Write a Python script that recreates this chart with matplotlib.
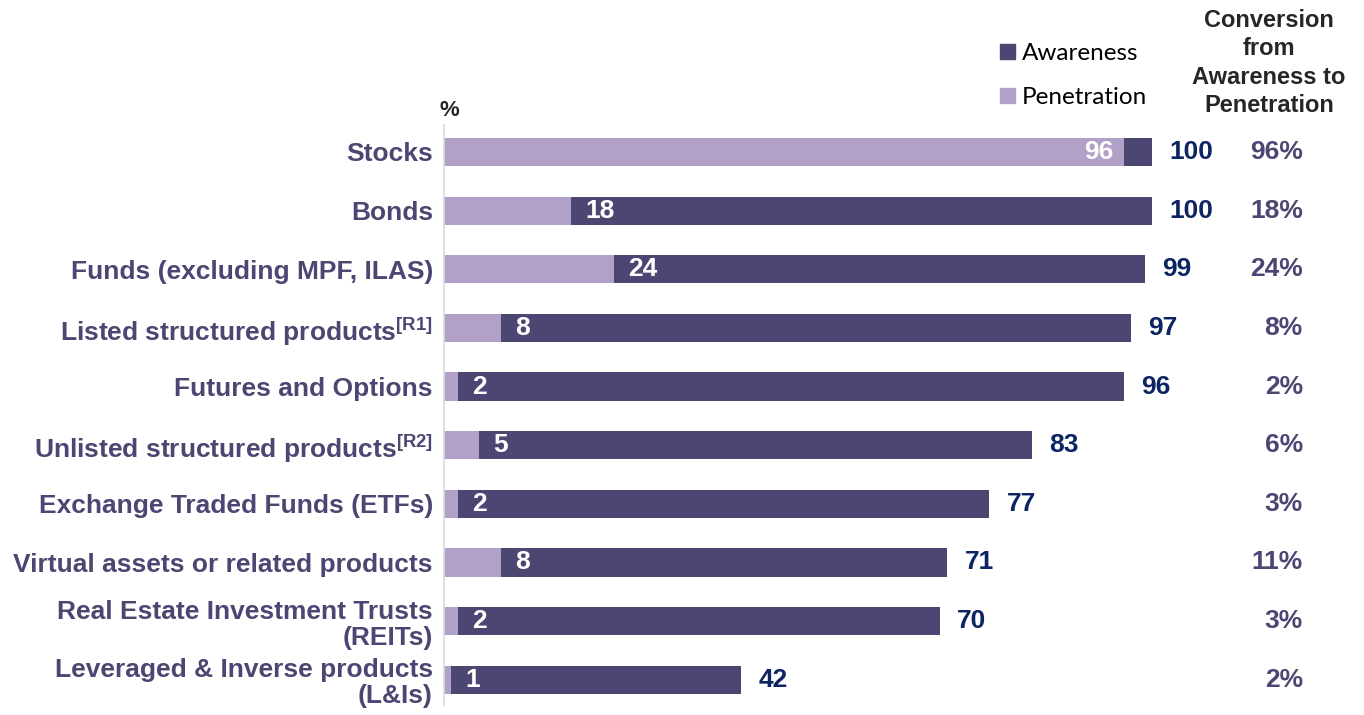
import numpy as np
import matplotlib
matplotlib.use("Agg")
import matplotlib.pyplot as plt
from matplotlib.patches import Patch

plt.rcParams['font.family'] = ['Liberation Sans', 'DejaVu Sans']
plt.rcParams['mathtext.fontset'] = 'custom'
plt.rcParams['mathtext.rm'] = 'Liberation Sans:bold'
plt.rcParams['mathtext.bf'] = 'Liberation Sans:bold'

categories = [
    "Stocks",
    "Bonds",
    "Funds (excluding MPF, ILAS)",
    r"Listed structured products$^{\mathbf{[R1]}}$",
    "Futures and Options",
    r"Unlisted structured products$^{\mathbf{[R2]}}$",
    "Exchange Traded Funds (ETFs)",
    "Virtual assets or related products",
    "Real Estate Investment Trusts\n(REITs)",
    "Leveraged & Inverse products\n(L&Is)",
]
awareness = [100, 100, 99, 97, 96, 83, 77, 71, 70, 42]
penetration = [96, 18, 24, 8, 2, 5, 2, 8, 2, 1]
conversion = ["96%", "18%", "24%", "8%", "2%", "6%", "3%", "11%", "3%", "2%"]

c_aw = '#4B4672'
c_pen = '#B1A0C7'
c_val = '#0D2462'
c_lab = '#4B4672'
fs = 19

fig = plt.figure(figsize=(13.64, 7.15), dpi=100)
ax = fig.add_axes([444 / 1364, 10 / 715, 920 / 1364, 580 / 715])

y = np.arange(len(categories))
ax.barh(y, awareness, height=0.48, color=c_aw, label='Awareness')
ax.barh(y, penetration, height=0.48, color=c_pen, label='Penetration')

ax.set_xlim(0, 920 / 7.08)
ax.set_ylim(9.43, -0.46)

for i in range(len(categories)):
    p = penetration[i]
    if p > 50:
        ax.text(p - 1.5, i, str(p), ha='right', va='center', color='white',
                fontsize=fs, fontweight='bold')
    else:
        ax.text(p + 2.0, i, str(p), ha='left', va='center', color='white',
                fontsize=fs, fontweight='bold')
    ax.text(awareness[i] + 2.5, i, str(awareness[i]), ha='left', va='center',
            color=c_val, fontsize=fs, fontweight='bold')
    ax.text(121.3, i, conversion[i], ha='right', va='center', color=c_lab,
            fontsize=fs, fontweight='bold')

ax.set_yticks(y)
ax.set_yticklabels(categories, fontsize=fs, fontweight='bold', color=c_lab,
                   ha='right', linespacing=1.1)
ax.tick_params(axis='y', length=0, pad=8)
ax.set_xticks([])
for s in ['top', 'right', 'bottom']:
    ax.spines[s].set_visible(False)
ax.spines['left'].set_color('#D9D9D9')
ax.spines['left'].set_linewidth(1.2)

fig.text(439 / 1364, 1 - 110 / 715, "%", ha='left', va='center',
         fontsize=16, fontweight='bold', color='#262626')

fig.text(1269 / 1364, 1 - 63 / 715,
         "Conversion\nfrom\nAwareness to\nPenetration",
         ha='center', va='center', fontsize=17, fontweight='bold',
         color='#262626', linespacing=1.3)

handles = [Patch(color=c_aw, label='Awareness'),
           Patch(color=c_pen, label='Penetration')]
fig.legend(handles=handles, loc='upper left',
           bbox_to_anchor=(988 / 1364, 1 - 31 / 715), frameon=False,
           prop={'family': 'Lato', 'size': 17.5}, handlelength=0.6,
           handleheight=0.6, handletextpad=0.3, labelspacing=0.95,
           borderpad=0)

plt.savefig("out.png", dpi=100)
